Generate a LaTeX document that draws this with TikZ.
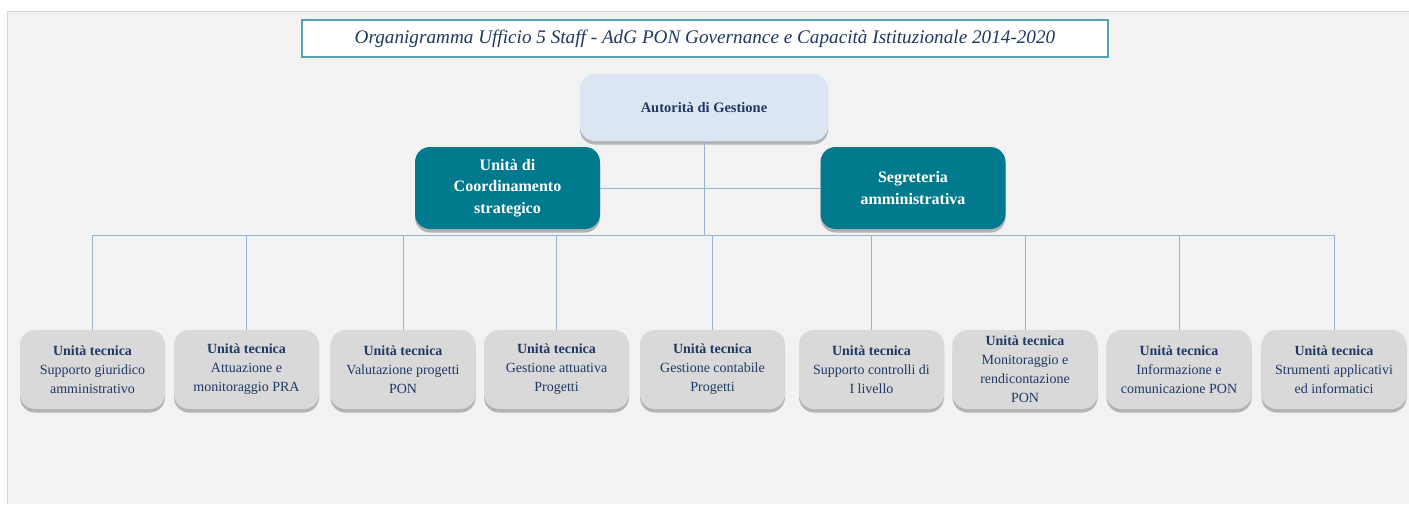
\documentclass[tikz,border=0pt]{standalone}
\usepackage{fontspec}
\setmainfont{Liberation Serif}
\usetikzlibrary{shadows}
\definecolor{bgc}{RGB}{242,242,242}
\definecolor{bgline}{RGB}{210,214,218}
\definecolor{navy}{RGB}{31,56,100}
\definecolor{teal}{RGB}{0,122,140}
\definecolor{agfill}{RGB}{220,230,242}
\definecolor{ufill}{RGB}{217,217,217}
\definecolor{conn}{RGB}{149,179,215}
\definecolor{tborder}{RGB}{90,160,180}
\tikzset{
  sh/.style={drop shadow={shadow xshift=0pt,shadow yshift=-3.5pt,fill=black!50,opacity=0.55}},
  unitbox/.style={rounded corners=15pt,fill=ufill,sh,minimum width=145pt,minimum height=79pt,align=center,text=navy,font=\fontsize{14}{19}\selectfont,inner sep=1pt},
  tealbox/.style={rounded corners=15pt,fill=teal,sh,minimum width=185pt,minimum height=82pt,align=center,text=white,font=\bfseries\fontsize{16}{21.5}\selectfont},
  connline/.style={draw=conn,line width=1pt},
}
\begin{document}
\begin{tikzpicture}[x=1pt,y=-1pt]
\useasboundingbox (0,0) rectangle (1409,504);
\fill[bgc] (7,11) rectangle (1409,504);
\draw[bgline,line width=1pt] (7,504) -- (7,11) -- (1409,11);
% title
\node[draw=tborder,line width=1.5pt,fill=white,minimum width=806pt,minimum height=37pt,text=navy,font=\itshape\fontsize{19.2}{22}\selectfont] (title) at (705,38.5) {Organigramma Ufficio 5 Staff - AdG PON Governance e Capacità Istituzionale 2014-2020};
% top
\node[rounded corners=15pt,fill=agfill,sh,minimum width=248pt,minimum height=67pt,text=navy,font=\bfseries\fontsize{14.5}{17}\selectfont] (ag) at (704,107.5) {Autorità di Gestione};
\node[tealbox] (coord) at (507.5,188) {Unità di\\Coordinamento\\strategico};
\node[tealbox] (seg) at (913,188) {Segreteria\\amministrativa};
% units
\node[unitbox] (u1) at (92.5,369.5) {\textbf{Unità tecnica}\\Supporto giuridico\\amministrativo};
\node[unitbox] (u2) at (246.5,369.5) {\textbf{Unità tecnica}\\Attuazione e\\monitoraggio PRA};
\node[unitbox] (u3) at (403,369.5) {\textbf{Unità tecnica}\\Valutazione progetti\\PON};
\node[unitbox] (u4) at (556.5,369.5) {\textbf{Unità tecnica}\\Gestione attuativa\\Progetti};
\node[unitbox] (u5) at (712.5,369.5) {\textbf{Unità tecnica}\\Gestione contabile\\Progetti};
\node[unitbox] (u6) at (871.5,369.5) {\textbf{Unità tecnica}\\Supporto controlli di\\I livello};
\node[unitbox] (u7) at (1025,369.5) {\textbf{Unità tecnica}\\Monitoraggio e\\rendicontazione\\PON};
\node[unitbox] (u8) at (1179,369.5) {\textbf{Unità tecnica}\\Informazione e\\comunicazione PON};
\node[unitbox] (u9) at (1334,369.5) {\textbf{Unità tecnica}\\Strumenti applicativi\\ed informatici};
% connectors
\coordinate (j) at (704,235);
\draw[connline] (ag.south) -- (j);
\draw[connline] (coord.east) -- (seg.west);
\draw[connline] (u1.north |- j) -- (u9.north |- j);
\foreach \u in {u1,u2,u3,u4,u5,u6,u7,u8,u9}{
  \draw[connline] (\u.north |- j) -- (\u.north);
}
\end{tikzpicture}
\end{document}
